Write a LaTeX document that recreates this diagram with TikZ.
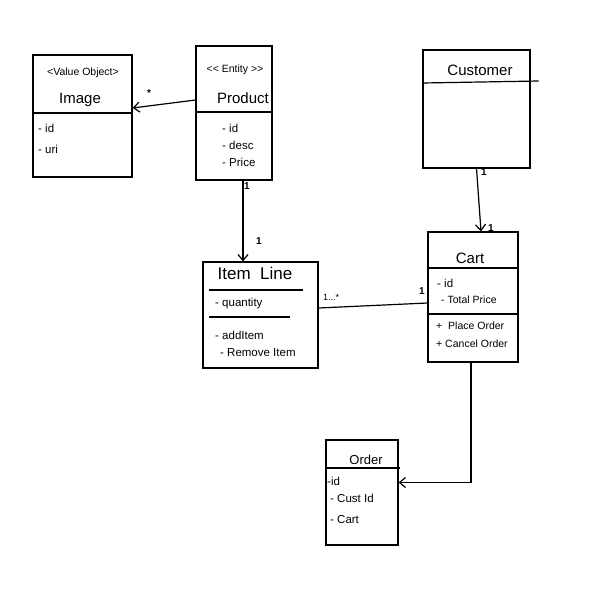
\documentclass[tikz,border=0pt]{standalone}
\usepackage{fontspec}
\setmainfont{Liberation Sans}
\usetikzlibrary{arrows.meta,calc}
\begin{document}
\begin{tikzpicture}[x=1pt,y=-1pt,
  classbox/.style={draw, line width=1.2pt, inner sep=0pt},
  rule/.style={line width=1.2pt},
  assoc/.style={line width=1.2pt, -{Straight Barb[length=6pt,width=10pt,line width=1.2pt]}},
  link/.style={line width=1.2pt},
  stereo/.style={font=\fontsize{10.5}{12}\selectfont, inner sep=0pt},
  cname/.style={font=\fontsize{15}{18}\selectfont, inner sep=0pt},
  member/.style={font=\fontsize{11.5}{13}\selectfont, anchor=west, inner sep=0pt},
  small/.style={font=\fontsize{10.5}{12}\selectfont, anchor=west, inner sep=0pt},
  mult/.style={font=\fontsize{10}{12}\selectfont\bfseries, inner sep=0pt}]
\useasboundingbox[fill=white] (0,0) rectangle (615,595);

% class boxes
\node[classbox, minimum width=99pt, minimum height=122pt] (image) at (82.5,116) {};
\node[classbox, minimum width=76pt, minimum height=134pt] (product) at (234,113) {};
\node[classbox, minimum width=107pt, minimum height=118pt] (customer) at (476.5,109) {};
\node[classbox, minimum width=115pt, minimum height=106pt] (itemline) at (260.5,315) {};
\node[classbox, minimum width=90pt, minimum height=130pt] (cart) at (473,297) {};
\node[classbox, minimum width=72pt, minimum height=105pt] (order) at (362,492.5) {};

% compartment rules
\draw[rule] (image.west |- 0,113) -- (image.east |- 0,113);
\draw[rule] (product.west |- 0,112) -- (product.east |- 0,112);
\draw[rule] (customer.west |- 0,83) -- ($(customer.east |- 0,81)+(8,0)$);
\draw[rule] (209,290) -- (303,290);
\draw[rule] (209,317) -- (290,317);
\draw[rule] (cart.west |- 0,268) -- (cart.east |- 0,268);
\draw[rule] (cart.west |- 0,314) -- (cart.east |- 0,314);
\draw[rule] (order.west |- 0,468) -- ($(order.east |- 0,468)+(1,0)$);

% Image
\node[stereo] (imagest) at (83,73) {<Value Object>};
\node[cname] (imagename) at (80,100) {Image};
\node[member] (imageid) at (38,128) {- id};
\node[member] (imageuri) at (38,149) {- uri};

% Product
\node[stereo] (productst) at (235,70) {{<}{<} Entity {>}{>}};
\node[cname] (productname) at (243,98) {Product};
\node[member] (productid) at (222,128) {- id};
\node[member] (productdesc) at (222,145) {- desc};
\node[member] (productprice) at (222,162) {- Price};

% Customer
\node[cname] (customername) at (480,70) {Customer};

% Item Line
\node[cname, font=\fontsize{17}{20}\selectfont] (itemlinename) at (255,273) {Item\ \ Line};
\node[member] (itemqty) at (215,304) {- quantity};
\node[member] (itemadd) at (215,335) {- addItem};
\node[member] (itemremove) at (220,353) {- Remove Item};

% Cart
\node[cname] (cartname) at (470,258) {Cart};
\node[member] (cartid) at (437,283) {- id};
\node[small] (carttotal) at (441,300) {- Total Price};
\node[small] (cartplace) at (436,326) {+ \ Place Order};
\node[small] (cartcancel) at (436,344) {+ Cancel Order};

% Order
\node[cname, font=\fontsize{13}{16}\selectfont] (ordername) at (366,460) {Order};
\node[member] (orderid) at (327,481) {-id};
\node[member] (ordercust) at (330,498) {- Cust Id};
\node[member] (ordercart) at (330,520) {- Cart};

% associations
\draw[assoc] ([yshift=13pt]product.west) -- ([yshift=8pt]image.east);
\node[mult] (mimage) at (149,93) {*};

\draw[assoc] ([xshift=9pt]product.south) -- ([xshift=9pt]product.south |- itemline.north);
\node[mult] (mprod) at (247,186) {1};
\node[mult] (mitem) at (259,241) {1};

\draw[assoc] (customer.south) -- ([xshift=8pt]cart.north);
\node[mult] (mcust) at (484,172) {1};
\node[mult] (mcart) at (491,228) {1};

\draw[link] ([yshift=7pt]itemline.east) -- ([yshift=-6pt]cart.west);
\node[mult, font=\fontsize{9}{11}\selectfont] (mlines) at (331,297) {1...*};
\node[mult] (mcartline) at (422,291) {1};

\draw[assoc] ([xshift=-2pt]cart.south) |- ([yshift=10pt]order.east);
\end{tikzpicture}
\end{document}
